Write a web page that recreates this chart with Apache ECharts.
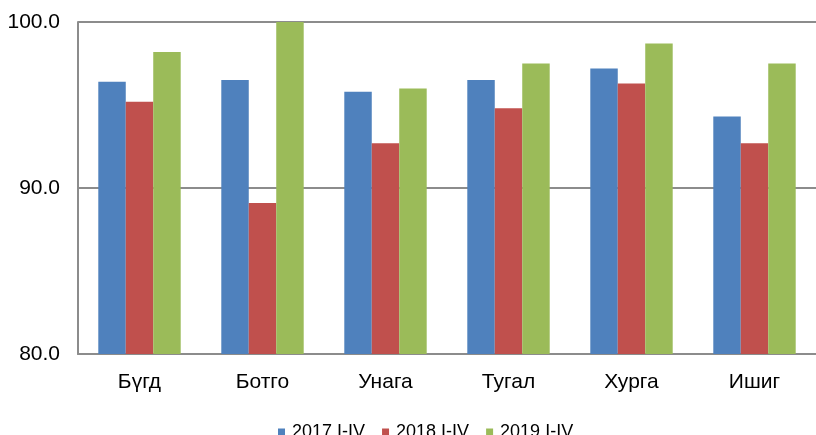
<!DOCTYPE html>
<html>
<head>
<meta charset="utf-8">
<script src="https://cdn.jsdelivr.net/npm/echarts@6.0.0/dist/echarts.min.js"></script>
<style>
  html, body { margin: 0; padding: 0; background: #fff; }
  #chart { width: 816px; height: 435px; }
</style>
</head>
<body>
<div id="chart"></div>
<script>
// Categories and values
const categories = ['Бүгд', 'Ботго', 'Унага', 'Тугал', 'Хурга', 'Ишиг'];
const seriesNames = ['2017.I-IV', '2018.I-IV', '2019.I-IV'];
const values2017 = [96.4, 96.5, 95.8, 96.5, 97.2, 94.3];
const values2018 = [95.2, 89.1, 92.7, 94.8, 96.3, 92.7];
const values2019 = [98.2, 100.0, 96.0, 97.5, 98.7, 97.5];
const colors = ['#4F81BD', '#C0504D', '#9BBB59'];

const chart = echarts.init(document.getElementById('chart'), null, { renderer: 'canvas' });

const font = 'Liberation Sans, Arial, sans-serif';

const option = {
    animation: false,
    textStyle: { fontFamily: font },
    grid: { left: 78, right: 0, top: 22, bottom: 81, containLabel: false },
    legend: {
        left: 273,
        top: 418,
        itemWidth: 7,
        itemHeight: 7,
        itemGap: 17,
        icon: 'rect',
        textStyle: { fontSize: 18, color: '#000', fontFamily: font, padding: [0, 0, 0, 2] },
        data: seriesNames
    },
    xAxis: {
        type: 'category',
        data: categories,
        axisLine: { lineStyle: { color: '#8c8c8c', width: 2 } },
        axisTick: { show: false },
        axisLabel: { fontSize: 21, color: '#000', margin: 18, fontFamily: font }
    },
    yAxis: {
        type: 'value',
        min: 80,
        max: 100,
        interval: 10,
        axisLine: { show: true, lineStyle: { color: '#8c8c8c', width: 2 } },
        axisTick: { show: false },
        splitLine: { lineStyle: { color: '#8c8c8c', width: 2 } },
        axisLabel: {
            fontSize: 21,
            color: '#000',
            margin: 18,
            fontFamily: font,
            formatter: v => v.toFixed(1)
        }
    },
    series: [values2017, values2018, values2019].map((vals, i) => ({
        name: seriesNames[i],
        type: 'bar',
        data: vals,
        barGap: '0%',
        barCategoryGap: '33%',
        itemStyle: { color: colors[i] }
    }))
};

chart.setOption(option);
</script>
</body>
</html>
